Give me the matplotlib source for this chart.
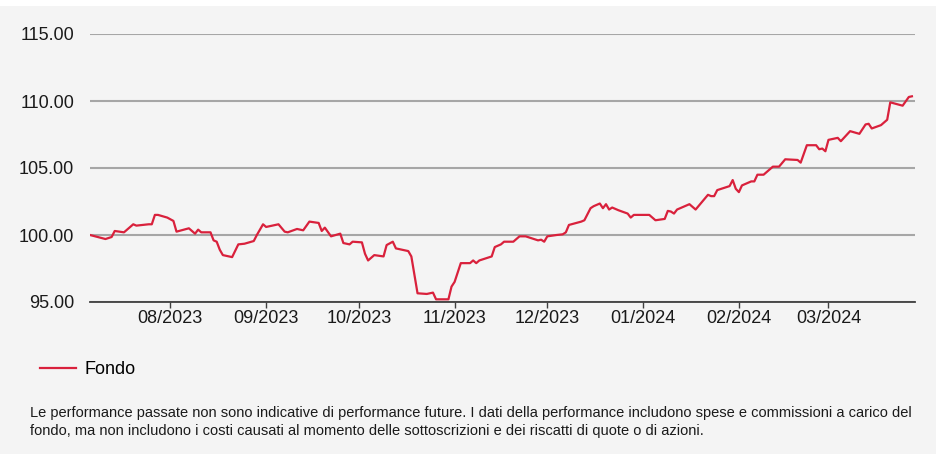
import matplotlib
matplotlib.use("Agg")
import matplotlib.pyplot as plt
import matplotlib.dates as mdates
from matplotlib.patches import Rectangle
import pandas as pd

# fund index values
dates = [
    "2023-07-06", "2023-07-11", "2023-07-13", "2023-07-14", "2023-07-17", "2023-07-20",
    "2023-07-21", "2023-07-25", "2023-07-26", "2023-07-27", "2023-07-28", "2023-07-31",
    "2023-08-02", "2023-08-03", "2023-08-07", "2023-08-09", "2023-08-10", "2023-08-11",
    "2023-08-14", "2023-08-15", "2023-08-16", "2023-08-17", "2023-08-18", "2023-08-21",
    "2023-08-23", "2023-08-25", "2023-08-28", "2023-08-29", "2023-08-31", "2023-09-01",
    "2023-09-05", "2023-09-07", "2023-09-08", "2023-09-11", "2023-09-13", "2023-09-15",
    "2023-09-18", "2023-09-19", "2023-09-20", "2023-09-22", "2023-09-25", "2023-09-26",
    "2023-09-28", "2023-09-29", "2023-10-02", "2023-10-03", "2023-10-04", "2023-10-06",
    "2023-10-09", "2023-10-10", "2023-10-12", "2023-10-13", "2023-10-17", "2023-10-18",
    "2023-10-20", "2023-10-23", "2023-10-25", "2023-10-26", "2023-10-30", "2023-10-31",
    "2023-11-01", "2023-11-03", "2023-11-06", "2023-11-07", "2023-11-08", "2023-11-09",
    "2023-11-13", "2023-11-14", "2023-11-16", "2023-11-17", "2023-11-20", "2023-11-22",
    "2023-11-24", "2023-11-28", "2023-11-29", "2023-11-30", "2023-12-01", "2023-12-04",
    "2023-12-06", "2023-12-07", "2023-12-08", "2023-12-12", "2023-12-13", "2023-12-15",
    "2023-12-16", "2023-12-18", "2023-12-19", "2023-12-20", "2023-12-21", "2023-12-22",
    "2023-12-24", "2023-12-27", "2023-12-28", "2023-12-29", "2024-01-03", "2024-01-05",
    "2024-01-08", "2024-01-09", "2024-01-10", "2024-01-11", "2024-01-12", "2024-01-16",
    "2024-01-18", "2024-01-22", "2024-01-23", "2024-01-24", "2024-01-25", "2024-01-29",
    "2024-01-30", "2024-01-31", "2024-02-01", "2024-02-02", "2024-02-05", "2024-02-06",
    "2024-02-07", "2024-02-09", "2024-02-12", "2024-02-14", "2024-02-16", "2024-02-20",
    "2024-02-21", "2024-02-23", "2024-02-26", "2024-02-27", "2024-02-28", "2024-02-29",
    "2024-03-01", "2024-03-04", "2024-03-05", "2024-03-08", "2024-03-11", "2024-03-13",
    "2024-03-14", "2024-03-15", "2024-03-18", "2024-03-20", "2024-03-21", "2024-03-25",
    "2024-03-27", "2024-03-28",
]
fondo = [
    100.0, 99.7, 99.85, 100.3, 100.2, 100.8,
    100.7, 100.8, 100.8, 101.5, 101.5, 101.3,
    101.05, 100.25, 100.5, 100.1, 100.4, 100.2,
    100.2, 99.6, 99.5, 98.9, 98.5, 98.35,
    99.3, 99.35, 99.55, 100.0, 100.8, 100.6,
    100.8, 100.25, 100.2, 100.45, 100.35, 101.0,
    100.9, 100.3, 100.55, 99.9, 100.1, 99.4,
    99.3, 99.5, 99.45, 98.6, 98.1, 98.5,
    98.4, 99.25, 99.5, 99.0, 98.8, 98.4,
    95.65, 95.6, 95.7, 95.2, 95.2, 96.15,
    96.5, 97.9, 97.9, 98.1, 97.9, 98.1,
    98.4, 99.1, 99.3, 99.5, 99.5, 99.9,
    99.9, 99.6, 99.65, 99.5, 99.9, 100.0,
    100.05, 100.2, 100.75, 101.0, 101.1, 102.0,
    102.15, 102.35, 102.0, 102.3, 101.9, 102.05,
    101.85, 101.6, 101.3, 101.5, 101.5, 101.1,
    101.2, 101.8, 101.75, 101.6, 101.9, 102.3,
    101.9, 103.0, 102.9, 102.9, 103.35, 103.65,
    104.1, 103.45, 103.2, 103.7, 104.0, 104.0,
    104.5, 104.5, 105.1, 105.1, 105.65, 105.6,
    105.4, 106.7, 106.7, 106.4, 106.45, 106.25,
    107.1, 107.25, 107.0, 107.75, 107.55, 108.25,
    108.3, 107.95, 108.2, 108.6, 109.9, 109.65,
    110.3, 110.35,
]
y_ticks = [95, 100, 105, 110, 115]
series_label = "Fondo"
disclaimer = ("Le performance passate non sono indicative di performance future. I dati della performance "
              "includono spese e commissioni a carico del\n"
              "fondo, ma non includono i costi causati al momento delle sottoscrizioni e dei riscatti di "
              "quote o di azioni.")

plt.rcParams["font.family"] = ["Liberation Sans", "DejaVu Sans"]

BG = "#f4f4f4"
RED = "#d9213c"

fig = plt.figure(figsize=(9.37, 4.54), dpi=100, facecolor="white")
# grey panel behind everything, white strip on top
fig.patches.append(Rectangle((0, 0), 1, 1 - 6 / 454, transform=fig.transFigure,
                             facecolor=BG, edgecolor="none", zorder=-10))

ax = fig.add_axes([90 / 937, 1 - 302 / 454, (915 - 90) / 937, (302 - 34) / 454])
ax.set_facecolor("none")

x = pd.to_datetime(dates)
ax.plot(x, fondo, color=RED, linewidth=1.6, label=series_label, zorder=3)

ax.set_ylim(95, 115)
ax.set_yticks(y_ticks)
ax.yaxis.set_major_formatter(matplotlib.ticker.FormatStrFormatter("%.2f"))
ax.set_xlim(pd.Timestamp("2023-07-06"), pd.Timestamp("2024-03-29"))
ax.xaxis.set_major_locator(mdates.MonthLocator())
ax.xaxis.set_major_formatter(mdates.DateFormatter("%m/%Y"))

ax.grid(axis="y", color="#a6a6a6", linewidth=1.5)
ax.grid(axis="x", visible=False)
for s in ["top", "right", "left"]:
    ax.spines[s].set_visible(False)
ax.spines["bottom"].set_color("#404040")
ax.spines["bottom"].set_linewidth(1.3)
ax.tick_params(axis="y", length=0, labelsize=13, pad=11.5, labelcolor="#1a1a1a")
ax.tick_params(axis="x", length=4, width=1, color="#404040", labelsize=13, pad=2,
               labelcolor="#1a1a1a")

fig.legend(loc="center left", bbox_to_anchor=(33 / 937, 1 - 370 / 454), frameon=False,
           fontsize=13, handlelength=2.0, handletextpad=0.45, borderaxespad=0)

fig.text(30 / 937, 1 - 406 / 454, disclaimer, fontsize=10.5, va="top", ha="left",
         color="#1a1a1a", linespacing=1.35)

fig.savefig("out.png", dpi=100, facecolor=fig.get_facecolor())
